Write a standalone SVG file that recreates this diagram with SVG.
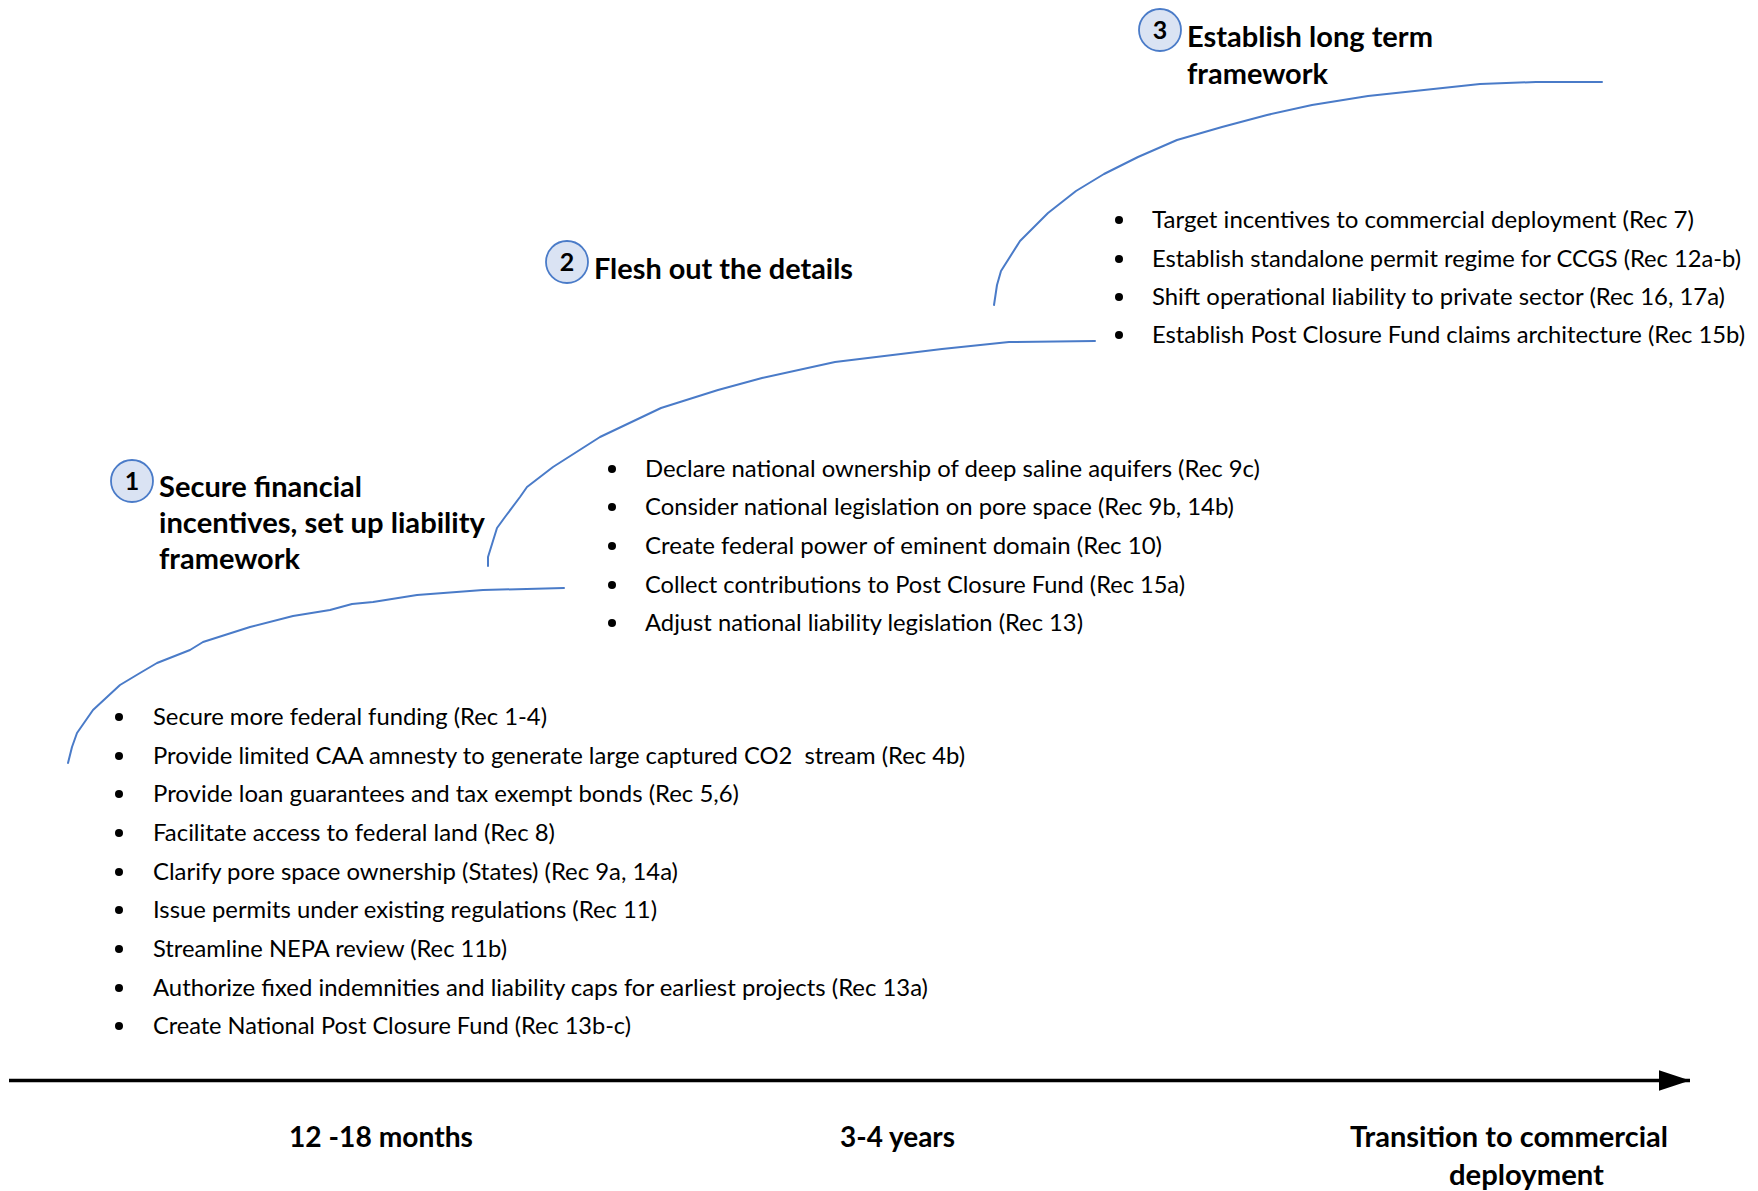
<svg xmlns="http://www.w3.org/2000/svg" width="1758" height="1191" viewBox="0 0 1758 1191">
<style>
.curve{fill:none;stroke:#4a7bc8;stroke-width:2;stroke-linejoin:round;stroke-linecap:round}
.badge{fill:#dae3f3;stroke:#4a7bc8;stroke-width:1.8}
.num{font-family:Lato,"Liberation Sans",sans-serif;font-weight:bold;font-size:25px;fill:#000;text-anchor:middle}
.title{font-family:Lato,"Liberation Sans",sans-serif;font-weight:bold;font-size:28px;fill:#000}
.body{font-family:Lato,"Liberation Sans",sans-serif;font-size:24px;fill:#000}
.axislbl{font-family:Lato,"Liberation Sans",sans-serif;font-weight:bold;font-size:28px;fill:#000}
.dot{fill:#000}
</style>
<defs>
<marker id="arrow" markerWidth="9" markerHeight="6" refX="9" refY="3" orient="auto" markerUnits="strokeWidth">
<path d="M0,0 L9,3 L0,6 Z" fill="#000"/>
</marker>
</defs>
<rect width="1758" height="1191" fill="#fff"/>

<g id="connectors">
<polyline class="curve" points="68,763 72,747 77,733 93,710 120,685 140,673 157,663 190,650 203,642 250,627 293,616 330,610 352,604 373,602 417,595 483,590 564,588"/>
<polyline class="curve" points="488,566 488,557 497,528 505,517 520,497 527,487 553,467 600,437 661,408 718,390 762,378 835,362 942,349 1009,342 1095,341"/>
<polyline class="curve" points="994,305 997,285 1001,271 1020,241 1048,213 1076,191 1104,174 1138,157 1177,140 1222,127 1267,115 1312,105 1368,96 1424,90 1480,84 1536,82 1602,82"/>
</g>

<g id="phase1">
<circle class="badge" cx="132" cy="481" r="21"/>
<text class="num" x="132" y="490">1</text>
<text class="title" x="159" y="497" textLength="203" lengthAdjust="spacingAndGlyphs">Secure financial</text>
<text class="title" x="159" y="533" textLength="326" lengthAdjust="spacingAndGlyphs">incentives, set up liability</text>
<text class="title" x="159" y="569" textLength="141" lengthAdjust="spacingAndGlyphs">framework</text>
<circle class="dot" cx="119" cy="717" r="4"/>
<circle class="dot" cx="119" cy="756" r="4"/>
<circle class="dot" cx="119" cy="794" r="4"/>
<circle class="dot" cx="119" cy="833" r="4"/>
<circle class="dot" cx="119" cy="872" r="4"/>
<circle class="dot" cx="119" cy="910" r="4"/>
<circle class="dot" cx="119" cy="949" r="4"/>
<circle class="dot" cx="119" cy="988" r="4"/>
<circle class="dot" cx="119" cy="1026" r="4"/>
<text class="body" x="153" y="725" textLength="394" lengthAdjust="spacingAndGlyphs">Secure more federal funding (Rec 1-4)</text>
<text class="body" x="153" y="764" textLength="812" lengthAdjust="spacingAndGlyphs" xml:space="preserve">Provide limited CAA amnesty to generate large captured CO2  stream (Rec 4b)</text>
<text class="body" x="153" y="802" textLength="586" lengthAdjust="spacingAndGlyphs">Provide loan guarantees and tax exempt bonds (Rec 5,6)</text>
<text class="body" x="153" y="841" textLength="402" lengthAdjust="spacingAndGlyphs">Facilitate access to federal land (Rec 8)</text>
<text class="body" x="153" y="880" textLength="525" lengthAdjust="spacingAndGlyphs">Clarify pore space ownership (States) (Rec 9a, 14a)</text>
<text class="body" x="153" y="918" textLength="504" lengthAdjust="spacingAndGlyphs">Issue permits under existing regulations (Rec 11)</text>
<text class="body" x="153" y="957" textLength="354" lengthAdjust="spacingAndGlyphs">Streamline NEPA review (Rec 11b)</text>
<text class="body" x="153" y="996" textLength="775" lengthAdjust="spacingAndGlyphs">Authorize fixed indemnities and liability caps for earliest projects (Rec 13a)</text>
<text class="body" x="153" y="1034" textLength="478" lengthAdjust="spacingAndGlyphs">Create National Post Closure Fund (Rec 13b-c)</text>
</g>

<g id="phase2">
<circle class="badge" cx="567" cy="262" r="21"/>
<text class="num" x="567" y="271">2</text>
<text class="title" x="594" y="279" textLength="259" lengthAdjust="spacingAndGlyphs">Flesh out the details</text>
<circle class="dot" cx="612" cy="469" r="4"/>
<circle class="dot" cx="612" cy="507" r="4"/>
<circle class="dot" cx="612" cy="546" r="4"/>
<circle class="dot" cx="612" cy="585" r="4"/>
<circle class="dot" cx="612" cy="623" r="4"/>
<text class="body" x="645" y="477" textLength="615" lengthAdjust="spacingAndGlyphs">Declare national ownership of deep saline aquifers (Rec 9c)</text>
<text class="body" x="645" y="515" textLength="589" lengthAdjust="spacingAndGlyphs">Consider national legislation on pore space (Rec 9b, 14b)</text>
<text class="body" x="645" y="554" textLength="517" lengthAdjust="spacingAndGlyphs">Create federal power of eminent domain (Rec 10)</text>
<text class="body" x="645" y="593" textLength="540" lengthAdjust="spacingAndGlyphs">Collect contributions to Post Closure Fund (Rec 15a)</text>
<text class="body" x="645" y="631" textLength="438" lengthAdjust="spacingAndGlyphs">Adjust national liability legislation (Rec 13)</text>
</g>

<g id="phase3">
<circle class="badge" cx="1160" cy="30" r="21"/>
<text class="num" x="1160" y="39">3</text>
<text class="title" x="1187" y="47" textLength="246" lengthAdjust="spacingAndGlyphs">Establish long term</text>
<text class="title" x="1187" y="84" textLength="141" lengthAdjust="spacingAndGlyphs">framework</text>
<circle class="dot" cx="1119" cy="220" r="4"/>
<circle class="dot" cx="1119" cy="259" r="4"/>
<circle class="dot" cx="1119" cy="297" r="4"/>
<circle class="dot" cx="1119" cy="335" r="4"/>
<text class="body" x="1152" y="228" textLength="542" lengthAdjust="spacingAndGlyphs">Target incentives to commercial deployment (Rec 7)</text>
<text class="body" x="1152" y="267" textLength="589" lengthAdjust="spacingAndGlyphs">Establish standalone permit regime for CCGS (Rec 12a-b)</text>
<text class="body" x="1152" y="305" textLength="573" lengthAdjust="spacingAndGlyphs">Shift operational liability to private sector (Rec 16, 17a)</text>
<text class="body" x="1152" y="343" textLength="593" lengthAdjust="spacingAndGlyphs">Establish Post Closure Fund claims architecture (Rec 15b)</text>
</g>

<g id="axis">
<line x1="9" y1="1080.5" x2="1690" y2="1080.5" stroke="#000" stroke-width="3.5" marker-end="url(#arrow)"/>
<text class="axislbl" x="289" y="1147" textLength="184" lengthAdjust="spacingAndGlyphs">12 -18 months</text>
<text class="axislbl" x="840" y="1147" textLength="115" lengthAdjust="spacingAndGlyphs">3-4 years</text>
<text class="axislbl" x="1350" y="1147" textLength="318" lengthAdjust="spacingAndGlyphs">Transition to commercial</text>
<text class="axislbl" x="1449" y="1185" textLength="155" lengthAdjust="spacingAndGlyphs">deployment</text>
</g>
</svg>
